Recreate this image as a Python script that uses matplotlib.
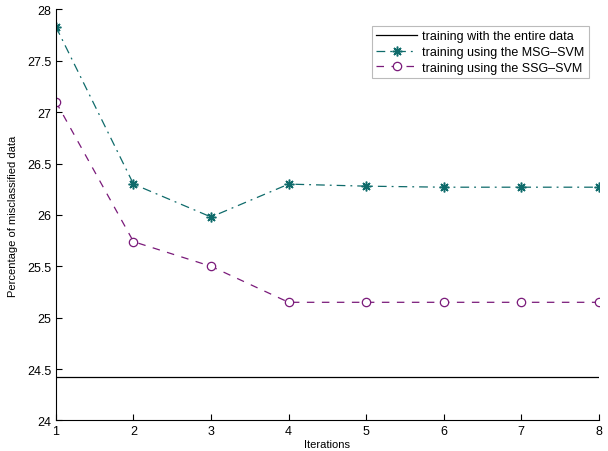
import matplotlib.pyplot as plt

iterations = [1, 2, 3, 4, 5, 6, 7, 8]
entire = [24.42, 24.42, 24.42, 24.42, 24.42, 24.42, 24.42, 24.42]
msg_svm = [27.83, 26.30, 25.98, 26.30, 26.28, 26.27, 26.27, 26.27]
ssg_svm = [27.10, 25.74, 25.50, 25.15, 25.15, 25.15, 25.15, 25.15]

plt.rcParams['font.family'] = ['Liberation Sans', 'DejaVu Sans']

fig = plt.figure(figsize=(6.08, 4.52), dpi=100)
ax = fig.add_axes([0.092, 0.0675, 0.893, 0.9095])

ax.plot(iterations, entire, color='black', linewidth=0.9,
        label='training with the entire data')
ax.plot(iterations, msg_svm, color='#0f6b6b', linestyle='-.', linewidth=0.9,
        dashes=(7, 4, 1.5, 4), marker=(8, 2, 0), markersize=7,
        markeredgewidth=1.1, label='training using the MSG\u2013SVM')
ax.plot(iterations, ssg_svm, color='#7a1a7a', linestyle='--', linewidth=0.9,
        dashes=(6, 6), marker='o', markersize=6, markerfacecolor='white',
        markeredgewidth=0.9, label='training using the SSG\u2013SVM')

ax.set_xlim(1, 8)
ax.set_ylim(24, 28)
ax.set_xticks(iterations)
ax.set_yticks([24, 24.5, 25, 25.5, 26, 26.5, 27, 27.5, 28])
ax.set_yticklabels(['24', '24.5', '25', '25.5', '26', '26.5', '27', '27.5', '28'])
ax.tick_params(direction='in', labelsize=9, length=4, width=0.8)
ax.spines['top'].set_visible(False)
ax.spines['right'].set_visible(False)
for s in ['left', 'bottom']:
    ax.spines[s].set_linewidth(0.8)

ax.set_xlabel('Iterations', fontsize=8, labelpad=1)
ax.set_ylabel('Percentage of misclassified data', fontsize=8, labelpad=6)

leg = ax.legend(loc='upper right', bbox_to_anchor=(0.993, 0.975), fontsize=9,
                fancybox=False, handlelength=3.3, borderpad=0.35,
                labelspacing=0.3, handletextpad=0.4)
leg.get_frame().set_edgecolor('#aaaaaa')
leg.get_frame().set_linewidth(0.8)

fig.savefig('out.png', dpi=100)
